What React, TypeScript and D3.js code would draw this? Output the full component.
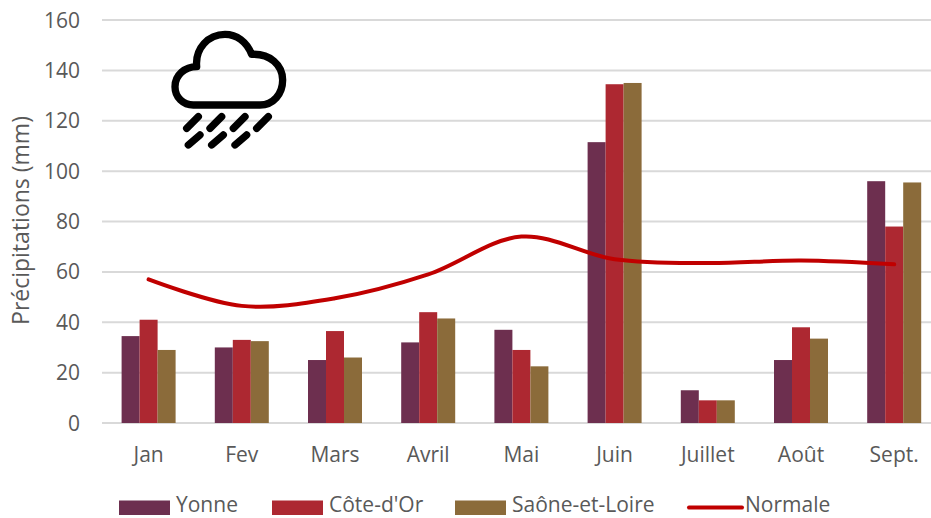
import React from "react";
import * as d3 from "d3";

const months = ["Jan", "Fev", "Mars", "Avril", "Mai", "Juin", "Juillet", "Août", "Sept."];
const yonne = [34.5, 30, 25, 32, 37, 111.5, 13, 25, 96];
const coteDor = [41, 33, 36.5, 44, 29, 134.5, 9, 38, 78];
const saone = [29, 32.5, 26, 41.5, 22.5, 135, 9, 33.5, 95.5];
const normale = [57, 46.5, 49.5, 59, 74, 65, 63.5, 64.5, 63];
const yTicks = [0, 20, 40, 60, 80, 100, 120, 140, 160];

const legendBars = [
  { name: "Yonne", color: "#6d2f4f", x: 119 },
  { name: "Côte-d'Or", color: "#ad2831", x: 272 },
  { name: "Saône-et-Loire", color: "#8b6b3a", x: 455 },
];

const W = 931, H = 518;
const FONT = "'Open Sans', sans-serif";
const GREY = "#595959";

export default function App() {
  const x = d3.scaleBand<string>().domain(months).range([102, 102 + 93.2 * 9]);
  const y = d3.scaleLinear().domain([0, 160]).range([423, 20]);
  const barW = 18;
  const seriesList = [
    { vals: yonne, color: legendBars[0].color },
    { vals: coteDor, color: legendBars[1].color },
    { vals: saone, color: legendBars[2].color },
  ];
  const cx = (m: string) => x(m)! + x.bandwidth() / 2;
  const line = d3.line<number>()
    .x((_, i) => cx(months[i]))
    .y((d) => y(d))
    .curve(d3.curveCatmullRom.alpha(0.5));

  return (
    <svg width={W} height={H} style={{ position: "absolute", left: 0, top: 0, background: "#fff" }} fontFamily={FONT}>
      {yTicks.map((t) => (
        <g key={t}>
          <line x1={102} x2={W} y1={y(t)} y2={y(t)} stroke="#d9d9d9" strokeWidth={2} />
          <text x={80} y={y(t) + 7.5} textAnchor="end" fontSize={21} fill={GREY}>{t}</text>
        </g>
      ))}
      <text transform="translate(29,220.5) rotate(-90)" textAnchor="middle" fontSize={23} fill={GREY}>Précipitations (mm)</text>
      {months.map((m, i) => (
        <g key={m}>
          {seriesList.map((s, j) => (
            <rect key={j} x={cx(m) + (j - 1.5) * barW} width={barW} y={y(s.vals[i])} height={y(0) - y(s.vals[i])} fill={s.color} />
          ))}
          <text x={cx(m)} y={462} textAnchor="middle" fontSize={21} fill={GREY}>{m}</text>
        </g>
      ))}
      <path d={line(normale)!} fill="none" stroke="#c00000" strokeWidth={4} strokeLinecap="round" />
      {/* weather icon, coordinates read from a 3x crop */}
      <g transform="translate(150,20) scale(0.3333)" fill="none" stroke="#000" strokeWidth={22} strokeLinecap="round" strokeLinejoin="round">
        <path d="M130,255 H330 C370,255 398,222 398,180 C398,135 360,100 305,103 C290,65 260,43 225,43 C175,43 135,85 140,140 C105,140 75,165 75,200 C75,232 100,255 130,255 Z" />
        <path d="M110,325 L145,290 M180,325 L215,290 M250,325 L285,290 M320,325 L355,290 M115,375 L150,345 M185,375 L220,345 M255,375 L290,345" />
      </g>
      {legendBars.map((l) => (
        <g key={l.name}>
          <rect x={l.x} y={500.5} width={51} height={14.5} fill={l.color} />
          <text x={l.x + 57} y={511.5} fontSize={21} fill={GREY}>{l.name}</text>
        </g>
      ))}
      <line x1={689} x2={742} y1={507.5} y2={507.5} stroke="#c00000" strokeWidth={4} strokeLinecap="round" />
      <text x={745} y={511.5} fontSize={21} fill={GREY}>Normale</text>
    </svg>
  );
}
